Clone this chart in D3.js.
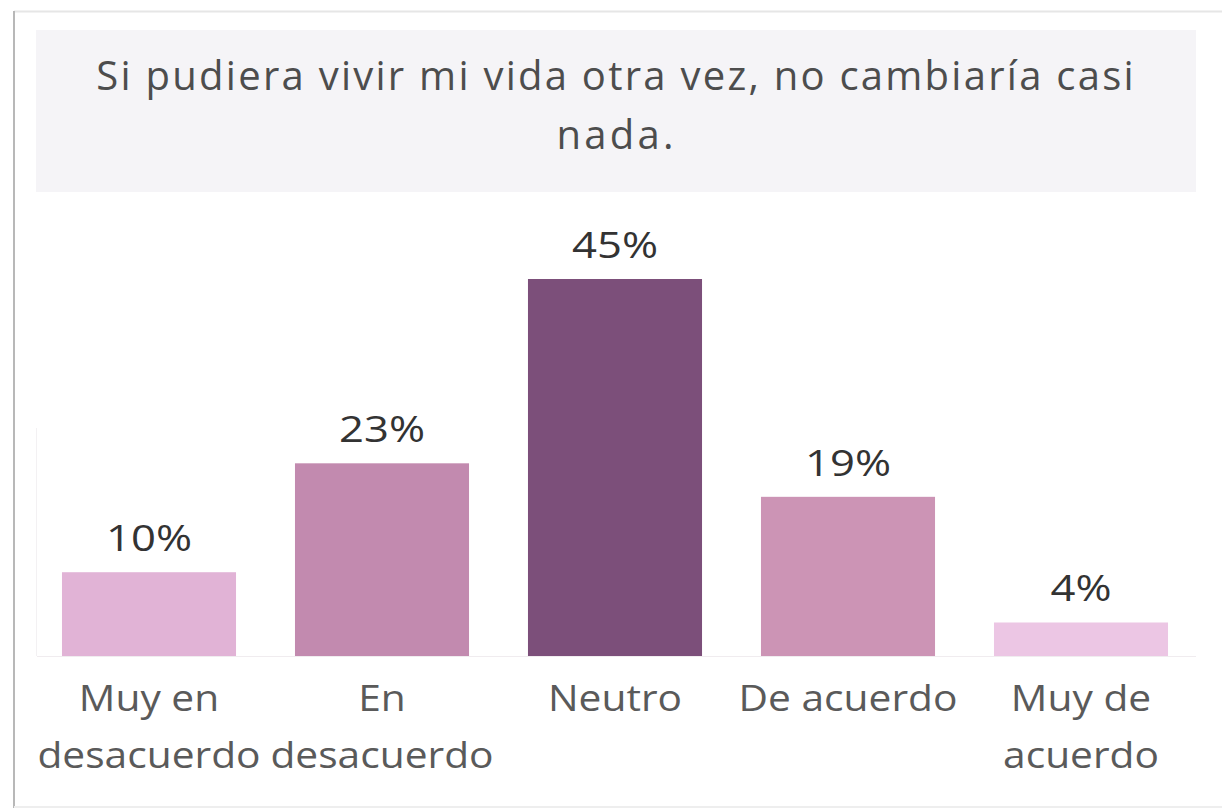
<!DOCTYPE html>
<html><head><meta charset="utf-8">
<script src="https://cdn.jsdelivr.net/npm/d3@7"></script>
<style>html,body{margin:0;padding:0;background:#fff;}svg{display:block;}</style>
</head><body>
<svg id="chart" width="1222" height="808"></svg>
<script>
const categories = [["Muy en","desacuerdo"],["En","desacuerdo"],["Neutro"],["De acuerdo"],["Muy de","acuerdo"]];
const values = [10, 23, 45, 19, 4];
const valueLabels = ["10%","23%","45%","19%","4%"];
const barColors = ["#e1b3d6","#c28aaf","#7c4f7a","#cc94b5","#ecc6e4"];
const titleLines = ["Si pudiera vivir mi vida otra vez, no cambiaría casi","nada."];

const svg = d3.select("#chart");
const font = "'Open Sans', 'Noto Sans', sans-serif";

function stretch(sel, factor, mode){
  sel.each(function(){
    const w = this.getComputedTextLength();
    d3.select(this).attr("textLength", w*factor).attr("lengthAdjust", mode || "spacing");
  });
}

// frame
svg.append("rect").attr("x",0).attr("y",0).attr("width",1222).attr("height",808).attr("fill","#fff");
svg.append("line").attr("x1",14).attr("x2",1222).attr("y1",11.5).attr("y2",11.5).attr("stroke","#e6e6e6").attr("stroke-width",2);
svg.append("line").attr("x1",14).attr("x2",14).attr("y1",11).attr("y2",808).attr("stroke","#b8b8b8").attr("stroke-width",2);
svg.append("line").attr("x1",14).attr("x2",1222).attr("y1",807).attr("y2",807).attr("stroke","#eeeeee").attr("stroke-width",2);

// title band
svg.append("rect").attr("x",36).attr("y",30).attr("width",1160).attr("height",162).attr("fill","#f5f4f7");
svg.selectAll("text.title").data(titleLines).join("text").attr("class","title")
  .attr("x",615).attr("y",(d,i)=>90+i*59)
  .attr("text-anchor","middle").attr("font-family",font).attr("font-size",40)
  .attr("fill","#4d4d4d").text(d=>d)
  .call(stretch, 1.125, "spacing");

// scales
const x = d3.scaleBand().domain(d3.range(values.length)).range([32.5,1197.5]).paddingInner(0.253).paddingOuter(0.1265);
const y = d3.scaleLinear().domain([0,45]).range([656,279]);

// axis lines
svg.append("line").attr("x1",37).attr("x2",1196).attr("y1",656.5).attr("y2",656.5).attr("stroke","#f0ecef").attr("stroke-width",1);
svg.append("line").attr("x1",36.5).attr("x2",36.5).attr("y1",428).attr("y2",656).attr("stroke","#f3f1f3").attr("stroke-width",1);

// bars
svg.selectAll("rect.bar").data(values).join("rect").attr("class","bar")
  .attr("x",(d,i)=>x(i)).attr("width",x.bandwidth())
  .attr("y",d=>y(d)).attr("height",d=>y(0)-y(d))
  .attr("fill",(d,i)=>barColors[i]);

// value labels
svg.selectAll("text.val").data(values).join("text").attr("class","val")
  .attr("x",(d,i)=>x(i)+x.bandwidth()/2).attr("y",d=>y(d)-21)
  .attr("text-anchor","middle").attr("font-family",font).attr("font-size",37)
  .attr("fill","#333").text((d,i)=>valueLabels[i])
  .call(stretch, 1.18, "spacingAndGlyphs");

// category labels
const cat = svg.selectAll("g.cat").data(categories).join("g").attr("class","cat")
  .attr("transform",(d,i)=>`translate(${x(i)+x.bandwidth()/2},0)`);
cat.selectAll("text").data(d=>d).join("text")
  .attr("x",0).attr("y",(d,i)=>711+i*57)
  .attr("text-anchor","middle").attr("font-family",font).attr("font-size",37)
  .attr("fill","#5a5a5a").text(d=>d)
  .call(stretch, 1.1, "spacingAndGlyphs");
</script>
</body></html>
